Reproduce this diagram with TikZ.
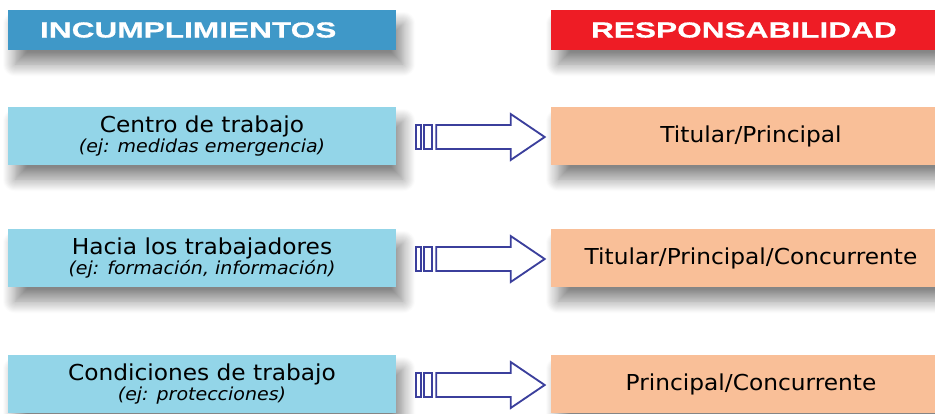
\documentclass[tikz,border=0pt]{standalone}
\usepackage{fontspec}
\setmainfont{DejaVu Sans}
\newfontfamily\boxfont[FakeStretch=1.06]{DejaVu Sans}
\newfontfamily\headfont[FakeStretch=1.44,FakeBold=0.6]{Liberation Sans Bold}
\usetikzlibrary{calc,shadows.blur}

\definecolor{incblue}{HTML}{3F98C8}
\definecolor{resred}{HTML}{EE1C25}
\definecolor{incfill}{HTML}{93D5E8}
\definecolor{resfill}{HTML}{F9BF98}
\definecolor{arrowblue}{HTML}{3B3F9C}

\tikzset{
  softshadow/.style={blur shadow={shadow xshift=4pt, shadow yshift=-8pt,
      shadow blur radius=7pt, shadow blur steps=12, shadow opacity=48}},
  headbox/.style={softshadow, minimum height=0.8cm, inner ysep=0pt,
      text=white, font=\headfont\fontsize{12.5}{12}\selectfont, align=left},
  incbox/.style={softshadow, fill=incfill, minimum width=7.76cm,
      minimum height=1.16cm, inner sep=0pt, align=center,
      font=\boxfont\fontsize{12.5}{9.4}\selectfont},
  resbox/.style={softshadow, fill=resfill, minimum width=8cm,
      minimum height=1.16cm, inner sep=0pt,
      font=\boxfont\fontsize{12.5}{12}\selectfont},
  arrowline/.style={draw=arrowblue, line width=1.05pt, fill=white}
}

\begin{document}
\begin{tikzpicture}[x=0.02cm,y=-0.02cm]
\useasboundingbox (0,0) rectangle (935,413);

\node[headbox, fill=incblue, inner xsep=0.64cm, text width=6.48cm] (inchead) at (202,30) {INCUMPLIMIENTOS};
\node[headbox, fill=resred, inner xsep=0.8cm, text width=6.4cm] (reshead) at (751,30) {RESPONSABILIDAD};

\foreach \i/\y/\inctxt/\ejtxt/\restxt in {
    1/136/{Centro de trabajo}/{medidas emergencia}/{Titular/Principal},
    2/258/{Hacia los trabajadores}/{formación, información}/{Titular/Principal/Concurrente},
    3/384/{Condiciones de trabajo}/{protecciones}/{Principal/Concurrente}} {
    \node[incbox] (inc\i) at (202,\y) {\inctxt\\{\fontsize{10.2}{9.4}\selectfont\itshape (ej: \ejtxt)}};
    \node[resbox] (res\i) at (751,\y) {\restxt};
    \coordinate (s\i) at ($(inc\i.east)+(20,1)$);
    \coordinate (t\i) at ($(res\i.west)+(-6,1)$);
    \draw[arrowline] ($(s\i)+(0,-12)$) rectangle ++(5,24);
    \draw[arrowline] ($(s\i)+(8,-12)$) rectangle ++(8,24);
    \draw[arrowline] ($(s\i)+(20,-12)$) -- ($(t\i)+(-34,-12)$) -- ($(t\i)+(-34,-23)$)
        -- (t\i) -- ($(t\i)+(-34,23)$) -- ($(t\i)+(-34,12)$) -- ($(s\i)+(20,12)$) -- cycle;
}
\end{tikzpicture}
\end{document}
